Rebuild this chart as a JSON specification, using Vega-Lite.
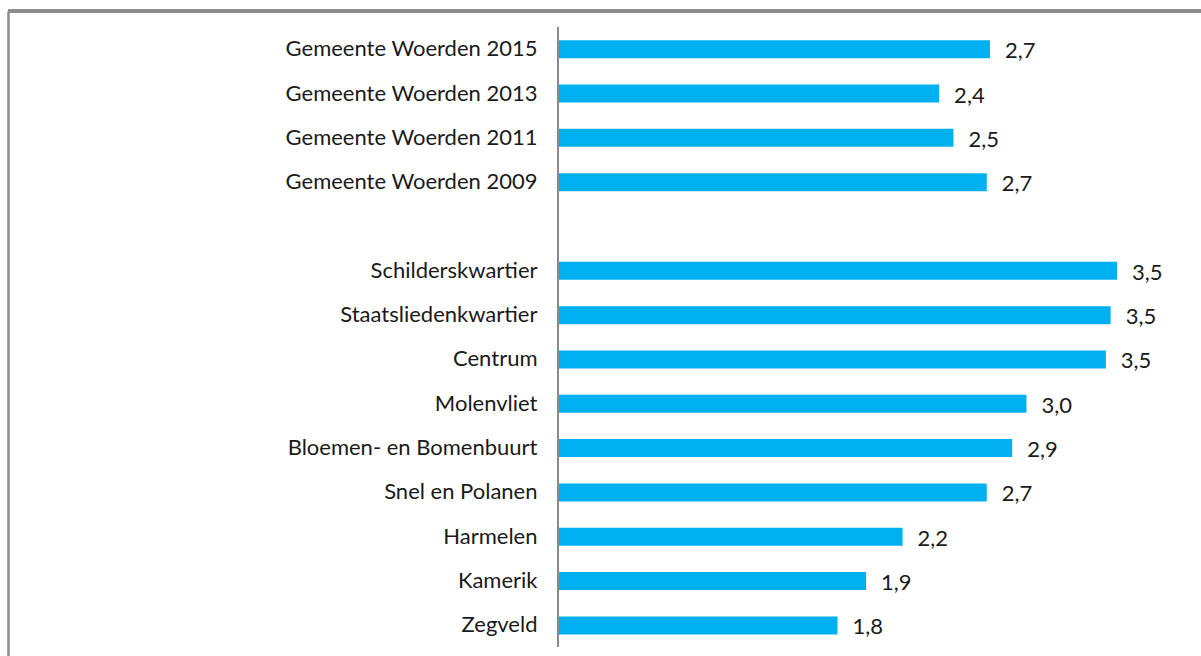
{
  "$schema": "https://vega.github.io/schema/vega-lite/v6.json",
  "width": 1193,
  "height": 645,
  "autosize": {"type": "none"},
  "padding": {"left": 8, "top": 11, "right": 0, "bottom": 0},
  "background": "#ffffff",
  "config": {"view": {"stroke": null}, "font": "Lato", "axis": {"domain": false, "ticks": false, "grid": false}},
  "data": {"values": [
    {"name": "Gemeente Woerden 2015", "value": 2.72, "label": "2,7"},
    {"name": "Gemeente Woerden 2013", "value": 2.40, "label": "2,4"},
    {"name": "Gemeente Woerden 2011", "value": 2.49, "label": "2,5"},
    {"name": "Gemeente Woerden 2009", "value": 2.70, "label": "2,7"},
    {"name": "Schilderskwartier", "value": 3.52, "label": "3,5"},
    {"name": "Staatsliedenkwartier", "value": 3.48, "label": "3,5"},
    {"name": "Centrum", "value": 3.45, "label": "3,5"},
    {"name": "Molenvliet", "value": 2.95, "label": "3,0"},
    {"name": "Bloemen- en Bomenbuurt", "value": 2.86, "label": "2,9"},
    {"name": "Snel en Polanen", "value": 2.70, "label": "2,7"},
    {"name": "Harmelen", "value": 2.17, "label": "2,2"},
    {"name": "Kamerik", "value": 1.94, "label": "1,9"},
    {"name": "Zegveld", "value": 1.76, "label": "1,8"}
  ]},
  "layer": [
    {
      "encoding": {
        "y": {
          "field": "name", "type": "nominal",
          "scale": {
            "domain": ["Gemeente Woerden 2015", "Gemeente Woerden 2013", "Gemeente Woerden 2011", "Gemeente Woerden 2009", " ", "Schilderskwartier", "Staatsliedenkwartier", "Centrum", "Molenvliet", "Bloemen- en Bomenbuurt", "Snel en Polanen", "Harmelen", "Kamerik", "Zegveld"],
            "paddingInner": 0.594, "paddingOuter": 0.573, "align": 0.575
          },
          "axis": {
            "title": null, "offset": -550, "domain": false, "ticks": false,
            "labelPadding": 21, "labelFontSize": 22, "labelFont": "Lato",
            "labelColor": "#1a1a1a", "labelLimit": 500
          }
        }
      },
      "layer": [
        {
          "mark": {"type": "bar", "color": "#00b0f0"},
          "encoding": {
            "x": {"field": "value", "type": "quantitative",
                  "scale": {"domain": [-3.4635, 4.0491], "nice": false, "zero": false},
                  "axis": null}
          }
        },
        {
          "mark": {"type": "text", "align": "left", "baseline": "middle", "dx": 15, "dy": 2, "fontSize": 22, "font": "Lato", "color": "#1a1a1a"},
          "encoding": {
            "x": {"field": "value", "type": "quantitative"},
            "text": {"field": "label"}
          }
        }
      ]
    },
    {
      "encoding": {
        "y": {"datum": 1, "type": "quantitative",
              "scale": {"domain": [0, 1], "nice": false, "zero": false},
              "axis": {"orient": "left", "domain": true, "domainColor": "#8c8c8c", "domainWidth": 2.5, "labels": false, "ticks": false, "grid": false, "title": null}}
      },
      "layer": [
        {
          "mark": {"type": "rule", "color": "#8a8a8a", "strokeWidth": 1.5},
          "encoding": {
            "x": {"datum": 0, "type": "quantitative"},
            "y": {"datum": 0.014, "type": "quantitative"},
            "y2": {"datum": 0.975}
          }
        },
        {
          "mark": {"type": "rule", "color": "#8c8c8c", "strokeWidth": 2.5},
          "encoding": {
            "x": {"datum": -3.4635, "type": "quantitative"},
            "x2": {"datum": 4.0491}
          }
        }
      ]
    }
  ],
  "resolve": {"scale": {"y": "independent"}, "axis": {"y": "independent"}}
}
